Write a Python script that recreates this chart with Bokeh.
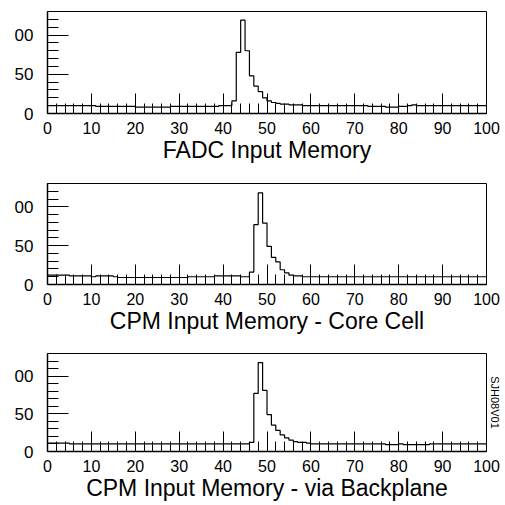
import numpy as np
from bokeh.plotting import figure
from bokeh.layouts import column
from bokeh.models import Range1d, FixedTicker, Title
from bokeh.embed import file_html
from bokeh.resources import INLINE

# bin edges 0..100 (1-unit bins)
edges = list(range(0, 101))

fadc = [10, 10, 10, 10, 10, 10, 10, 10, 10, 10,
        10, 9, 9, 9, 9, 9, 9, 9, 9, 9,
        8, 8, 8, 8, 8, 8, 8, 8, 9, 9,
        9, 9, 9, 9, 9, 9, 9, 9, 9, 10,
        10, 10, 16, 78, 119, 80, 48, 35, 28, 20,
        16, 14, 13, 12, 12, 11, 11, 11, 10, 10,
        10, 10, 10, 10, 10, 10, 10, 10, 10, 10,
        10, 10, 10, 9, 9, 9, 9, 8, 8, 8,
        9, 9, 10, 11, 10, 10, 10, 10, 10, 10,
        10, 10, 10, 10, 10, 10, 10, 10, 10, 10]

core = [12, 12, 12, 12, 12, 11, 11, 11, 11, 11,
        10, 11, 11, 11, 11, 10, 9, 9, 9, 9,
        9, 9, 9, 9, 9, 9, 9, 9, 9, 9,
        9, 9, 10, 10, 10, 10, 10, 10, 11, 11,
        11, 11, 11, 11, 10, 10, 16, 77, 118, 79,
        49, 35, 29, 19, 15, 12, 11, 11, 10, 10,
        10, 10, 10, 10, 10, 10, 10, 10, 10, 10,
        10, 10, 10, 10, 10, 10, 10, 10, 10, 10,
        10, 10, 10, 10, 10, 10, 10, 10, 10, 10,
        10, 10, 10, 10, 10, 10, 10, 10, 10, 10]

backplane = [11, 11, 11, 11, 11, 10, 10, 10, 10, 10,
             10, 10, 10, 10, 10, 10, 10, 10, 10, 10,
             10, 10, 10, 10, 10, 10, 10, 10, 10, 10,
             10, 10, 10, 10, 10, 10, 10, 10, 10, 10,
             10, 10, 10, 10, 10, 10, 12, 77, 118, 81,
             49, 35, 28, 22, 18, 15, 13, 12, 12, 11,
             10, 10, 10, 10, 10, 10, 10, 10, 10, 10,
             10, 10, 10, 10, 10, 10, 10, 9, 9, 9,
             10, 9, 9, 9, 9, 9, 9, 10, 10, 10,
             10, 10, 10, 10, 10, 10, 10, 10, 10, 10]

titles = ["FADC Input Memory",
          "CPM Input Memory - Core Cell",
          "CPM Input Memory - via Backplane"]

x_major = list(range(0, 101, 10))
x_minor = list(range(0, 101, 2))
y_major = [0, 50, 100]
y_minor = list(range(0, 131, 10))
y_label_text = {100: "00"}
stamp = "SJH08V01"

FONT = "Liberation Sans"


def make(vals, title, h, top, bottom):
    p = figure(width=505, height=h,
               x_range=Range1d(0, 100), y_range=Range1d(0, 130),
               output_backend="svg", toolbar_location=None,
               min_border_left=47, min_border_right=18,
               min_border_top=top, min_border_bottom=bottom)
    p.grid.visible = False
    p.outline_line_color = "black"
    p.outline_line_width = 1
    p.background_fill_color = "white"
    p.border_fill_color = "white"

    xa = p.xaxis[0]
    xa.ticker = FixedTicker(ticks=x_major, minor_ticks=x_minor)
    xa.major_tick_in = 20
    xa.major_tick_out = 0
    xa.minor_tick_in = 10
    xa.minor_tick_out = 0
    xa.axis_line_width = 1.5
    xa.major_label_standoff = 8
    xa.major_label_text_font = FONT
    xa.major_label_text_font_size = "16px"
    xa.major_label_text_color = "black"
    xa.axis_label = title
    xa.axis_label_text_font = FONT
    xa.axis_label_text_font_size = "23px"
    xa.axis_label_text_font_style = "normal"
    xa.axis_label_text_color = "black"
    xa.axis_label_standoff = 0

    ya = p.yaxis[0]
    ya.ticker = FixedTicker(ticks=y_major, minor_ticks=y_minor)
    ya.major_tick_in = 21
    ya.major_tick_out = 0
    ya.minor_tick_in = 11
    ya.minor_tick_out = 0
    ya.axis_line_width = 1.5
    ya.major_label_standoff = 14
    ya.major_label_text_font = FONT
    ya.major_label_text_font_size = "17px"
    ya.major_label_text_color = "black"
    ya.major_label_overrides = y_label_text

    ys = list(vals) + [vals[-1]]
    p.step(edges, ys, mode="after", line_color="black", line_width=1.2)
    return p


p1 = make(fadc, titles[0], 179, 11, 66)
p2 = make(core, titles[1], 171, 4, 66)
p3 = make(backplane, titles[2], 153, 3, 48)

p3.add_layout(Title(text=stamp, align="center", standoff=5,
                    text_font=FONT, text_font_size="11px",
                    text_font_style="normal", text_color="black"), "right")

layout = column(p1, p2, p3, spacing=0)

open("out.html", "w").write(file_html(layout, INLINE))
